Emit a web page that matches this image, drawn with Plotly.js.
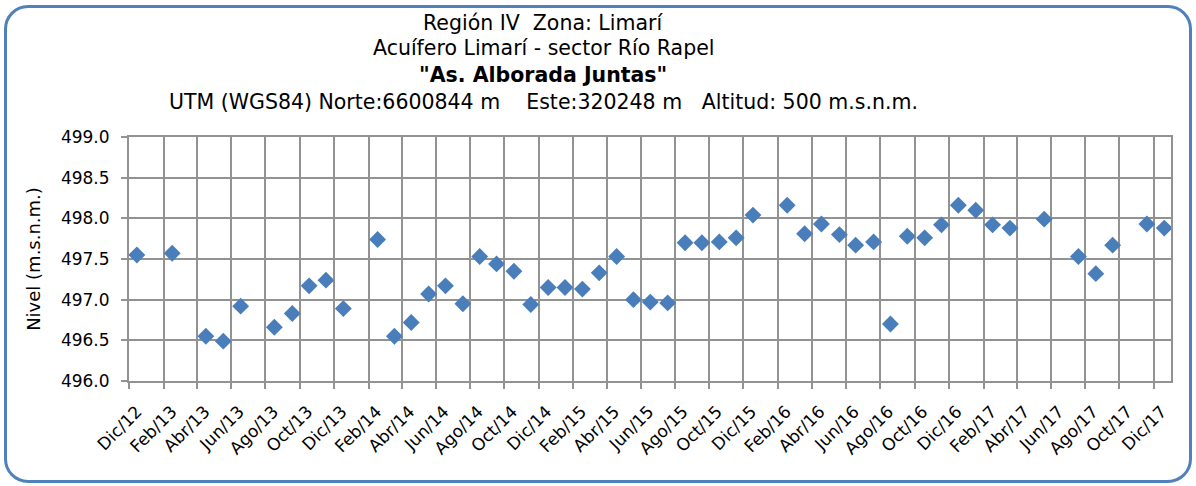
<!DOCTYPE html>
<html>
<head>
<meta charset="utf-8">
<script src="https://cdn.plot.ly/plotly-3.0.1.min.js"></script>
<style>
  html, body { margin: 0; padding: 0; background: #fff; }
  #wrap { position: relative; width: 1196px; height: 486px; }
  #chart { position: absolute; left: 0; top: 0; width: 1196px; height: 486px; }
  #frame { position: absolute; left: 4px; top: 5px; width: 1182px; height: 472px;
           border: 3px solid #4F81BD; border-radius: 24px; pointer-events: none; }
</style>
</head>
<body>
<div id="wrap"><div id="chart"></div><div id="frame"></div></div>
<script>
const dates = [
  "2012-12-15","2013-02-16","2013-04-17","2013-05-18","2013-06-18","2013-08-17","2013-09-18",
  "2013-10-18","2013-11-17","2013-12-18","2014-02-17","2014-03-19","2014-04-18","2014-05-19",
  "2014-06-18","2014-07-19","2014-08-18","2014-09-17","2014-10-18","2014-11-17","2014-12-18",
  "2015-01-17","2015-02-17","2015-03-19","2015-04-19","2015-05-19","2015-06-18","2015-07-19",
  "2015-08-19","2015-09-18","2015-10-19","2015-11-18","2015-12-18","2016-02-17","2016-03-19",
  "2016-04-18","2016-05-20","2016-06-18","2016-07-20","2016-08-19","2016-09-18","2016-10-19",
  "2016-11-18","2016-12-18","2017-01-18","2017-02-17","2017-03-20","2017-05-20","2017-07-20",
  "2017-08-20","2017-09-19","2017-11-19","2017-12-20"
];
const niveles = [
  497.55,497.57,496.55,496.49,496.92,496.66,496.83,
  497.17,497.24,496.89,497.74,496.55,496.72,497.07,
  497.17,496.95,497.53,497.44,497.35,496.94,497.15,
  497.15,497.13,497.33,497.53,497.00,496.97,496.96,
  497.70,497.70,497.71,497.76,498.04,498.16,497.81,
  497.93,497.80,497.67,497.71,496.70,497.78,497.76,
  497.92,498.16,498.10,497.92,497.88,497.99,497.53,
  497.32,497.67,497.93,497.88
];
const tickDates = [
  "2012-12-01","2013-02-01","2013-04-01","2013-06-01","2013-08-01","2013-10-01","2013-12-01",
  "2014-02-01","2014-04-01","2014-06-01","2014-08-01","2014-10-01","2014-12-01",
  "2015-02-01","2015-04-01","2015-06-01","2015-08-01","2015-10-01","2015-12-01",
  "2016-02-01","2016-04-01","2016-06-01","2016-08-01","2016-10-01","2016-12-01",
  "2017-02-01","2017-04-01","2017-06-01","2017-08-01","2017-10-01","2017-12-01"
];
const tickLabels = [
  "Dic/12","Feb/13","Abr/13","Jun/13","Ago/13","Oct/13","Dic/13",
  "Feb/14","Abr/14","Jun/14","Ago/14","Oct/14","Dic/14",
  "Feb/15","Abr/15","Jun/15","Ago/15","Oct/15","Dic/15",
  "Feb/16","Abr/16","Jun/16","Ago/16","Oct/16","Dic/16",
  "Feb/17","Abr/17","Jun/17","Ago/17","Oct/17","Dic/17"
];
const titleLines = [
  "Región IV\u00A0\u00A0Zona: Limarí",
  "Acuífero Limarí - sector Río Rapel",
  "<b>\"As. Alborada Juntas\"</b>",
  "UTM (WGS84) Norte:6600844 m\u00A0\u00A0\u00A0\u00A0Este:320248 m\u00A0\u00A0\u00A0Altitud: 500 m.s.n.m."
];
const titleY = [23, 48, 75, 102];

const FONT = "DejaVu Sans, Verdana, sans-serif";
const GRID = "#929292";

const trace = {
  x: dates, y: niveles, type: "scatter", mode: "markers",
  marker: { symbol: "diamond", size: 13, color: "#4A7EBB", line: { width: 0 } },
  hoverinfo: "x+y"
};

const annotations = titleLines.map((t, i) => ({
  text: t, xref: "paper", yref: "paper", showarrow: false,
  x: (543 - 129) / (1171 - 129), xanchor: "center",
  y: 1 + (137 - titleY[i]) / (381 - 137), yanchor: "middle",
  font: { family: FONT, size: 20.5, color: "#000" }
}));

const layout = {
  width: 1196, height: 486,
  margin: { l: 129, r: 25, t: 137, b: 105, pad: 0 },
  paper_bgcolor: "rgba(0,0,0,0)", plot_bgcolor: "#fff",
  showlegend: false,
  font: { family: FONT, color: "#000" },
  xaxis: {
    type: "date", range: ["2012-12-01", "2018-01-01"],
    tickmode: "array", tickvals: tickDates, ticktext: tickLabels,
    tickangle: -45, tickfont: { family: FONT, size: 17, color: "#000" },
    ticks: "outside", ticklen: 6, tickcolor: GRID, tickwidth: 2,
    ticklabelshift: 8, ticklabelstandoff: 6,
    showgrid: true, gridcolor: GRID, gridwidth: 2,
    showline: true, linecolor: GRID, linewidth: 2, mirror: true,
    zeroline: false
  },
  yaxis: {
    range: [496, 499], dtick: 0.5, tick0: 496, tickformat: ".1f",
    tickfont: { family: FONT, size: 17, color: "#000" },
    ticks: "outside", ticklen: 6, tickcolor: GRID, tickwidth: 2,
    ticklabelstandoff: 8,
    showgrid: true, gridcolor: GRID, gridwidth: 2,
    showline: true, linecolor: GRID, linewidth: 2, mirror: true,
    zeroline: false,
    title: { text: "Nivel (m.s.n.m.)", font: { family: FONT, size: 18, color: "#000" }, standoff: 16 }
  },
  annotations: annotations
};

Plotly.newPlot("chart", [trace], layout, { displayModeBar: false, staticPlot: true });
</script>
</body>
</html>
